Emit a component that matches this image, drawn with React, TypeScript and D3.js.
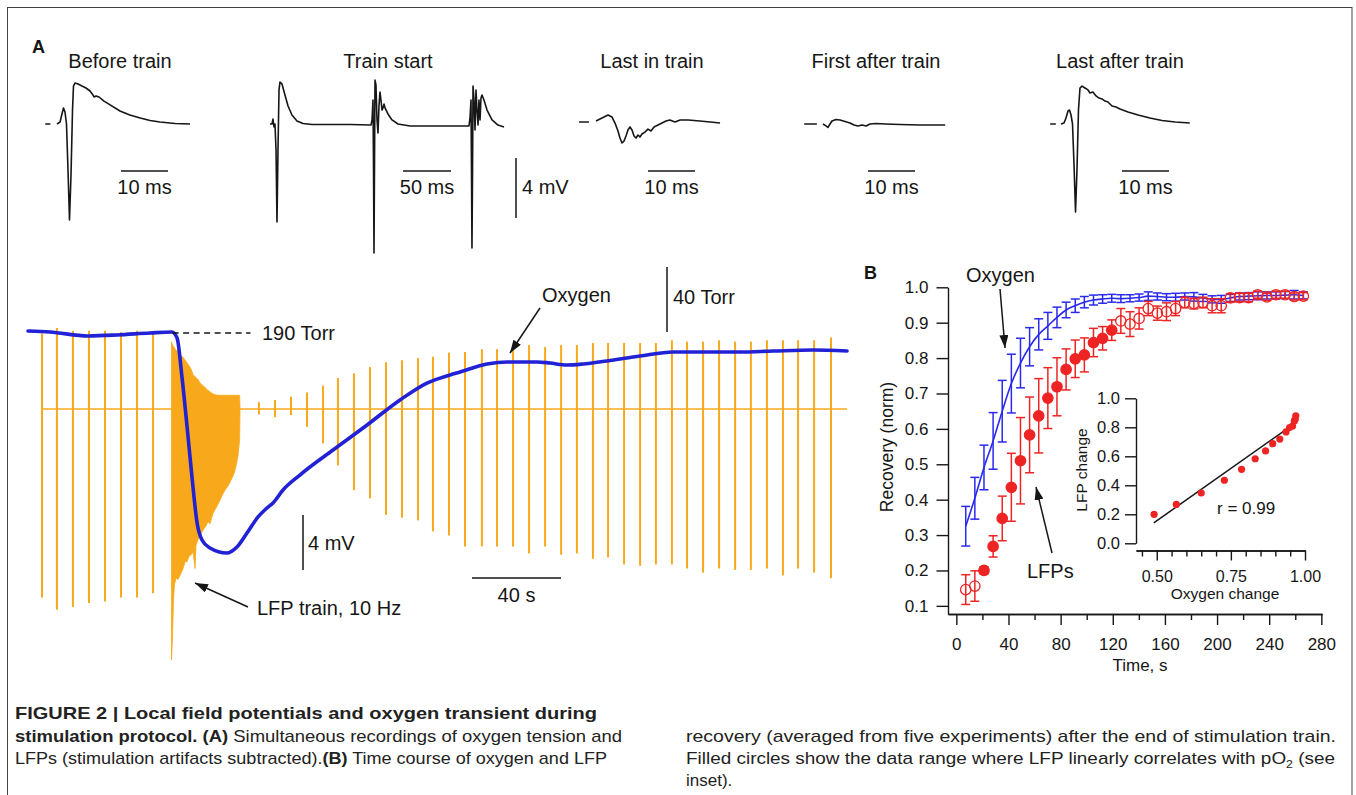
import React, { useEffect, useRef } from "react";
import * as d3 from "d3";

const FONT = "'Liberation Sans', Arial, Helvetica, sans-serif";
const INK = "#161616";
const ORANGE = "#f8a91b";
const NAVY = "#2121d6";
const BLUE = "#2a2aee";
const RED = "#ee2424";

// ---- panel A, top row: single LFP sweeps, [time ms, mV] ----
const sweepBefore = [[0,0],[0.64,0.13],[1.06,0.67],[1.38,1.07],[1.7,0.8],[2.02,0],[2.34,-3.07],[2.66,-6.4],[2.98,-3.4],[3.3,0.93],[3.51,2.53],[3.83,2.73],[4.47,2.67],[5.32,2.53],[6.17,2.4],[7.02,2.2],[7.66,1.93],[7.87,1.8],[8.3,1.87],[8.94,1.8],[10,1.53],[11.3,1.27],[13.4,0.87],[15.5,0.6],[17.7,0.4],[19.8,0.23],[21.9,0.13],[25.1,0.03],[28.3,0]];
const sweepTrainStart = [[-2.1,0],[0,0],[1.0,0.33],[2.1,-0.2],[3.1,0],[4.2,-1.73],[5.2,-6.53],[6.25,-1.73],[7.3,2.27],[8.3,2.8],[10.4,2.67],[13.5,1.93],[16.7,1.2],[20.8,0.6],[26,0.2],[32.3,0.03],[41.7,-0.03],[60.4,-0.03],[81.3,-0.03],[103.1,-0.07],[104.2,0.27],[105.2,1.6],[105.7,-2.4],[106.25,-8.6],[106.8,-2.4],[107.3,2.93],[108.3,2.6],[109.4,0.27],[110.4,-0.6],[111.5,1.27],[112.5,2.13],[113.5,1.6],[114.6,0.93],[115.6,1.07],[116.7,1.33],[117.7,1.07],[120.8,0.67],[125,0.27],[131.25,0],[143.75,-0.13],[164.6,-0.13],[185.4,-0.13],[205.2,-0.13],[206.25,0.4],[207.3,1.6],[207.8,-3.07],[208.3,-8.27],[208.9,-3.07],[209.4,2.53],[210.4,1.6],[211.5,-0.4],[212.5,2.27],[213.5,0.93],[214.6,-0.07],[215.6,1.6],[216.7,0.27],[217.7,1.73],[218.75,1.93],[220.8,1.6],[224,0.93],[229.2,0.27],[235.4,-0.07],[241.7,-0.2]];
const sweepLastIn = [[0,0.07],[0.85,0.2],[1.7,0.33],[2.55,0.47],[3.4,0.33],[4.04,-0.07],[4.68,-0.6],[5.1,-1.07],[5.53,-1.4],[5.96,-1.27],[6.38,-0.93],[6.8,-0.53],[7.23,-0.33],[7.66,-0.53],[8.09,-0.93],[8.51,-1.07],[8.94,-0.87],[9.36,-1.0],[9.79,-0.8],[10.4,-0.67],[11.06,-0.47],[11.7,-0.6],[12.34,-0.33],[13.2,-0.2],[14.04,-0.07],[14.9,0.07],[15.7,0.13],[16.8,0],[17.9,0.13],[19.6,0.13],[22.1,0.07],[24.3,0],[26.4,-0.07]];
const sweepFirstAfter = [[0,0],[0.64,-0.13],[1.06,-0.23],[1.49,0],[1.91,0.2],[2.77,0.3],[3.62,0.27],[4.68,0.17],[5.74,0.07],[6.6,-0.07],[7.45,-0.13],[8.3,-0.07],[9.15,-0.13],[10,0],[11.3,0.03],[13.2,0],[16.4,-0.03],[20.6,-0.07],[26,-0.07]];
const sweepLastAfter = [[0,0],[0.64,0.07],[1.06,0.4],[1.49,0.87],[1.81,0.93],[2.13,0.6],[2.45,0],[2.77,-2.73],[3.09,-5.87],[3.4,-3.07],[3.72,0.93],[4.04,2.4],[4.47,2.53],[5.1,2.4],[5.74,2.27],[6.17,2.07],[6.8,2.13],[7.45,1.87],[8.09,1.73],[8.72,1.67],[9.36,1.53],[10,1.47],[10.85,1.2],[11.7,1.13],[12.55,1.0],[14.26,0.8],[16.4,0.6],[18.9,0.4],[21.5,0.23],[24.3,0.13],[27.4,0.07]];
const sweepTitles = ["Before train", "Train start", "Last in train", "First after train", "Last after train"];
const sweepBarMs = [10, 50, 10, 10, 10];

// ---- panel A, lower: oxygen [s, Torr] and LFPs ----
const oxygenTrace = [[0,191.2],[9.9,190.6],[27,188.2],[40,188.8],[54.8,190],[64.7,190.6],[67,186.9],[69.2,162.9],[71.5,132.2],[73.7,101.4],[76,73.1],[78.2,62.6],[81.8,57.7],[89.4,54.6],[93.9,58.3],[98.4,66.9],[103.4,76.8],[107.4,82.3],[110.1,85.4],[114.6,93.4],[122.2,102.6],[137.1,118],[152.4,133.4],[167.2,148.8],[179.3,159.2],[189.7,164.2],[194.2,166],[206.3,170.9],[215.3,172.2],[228.8,172.2],[234.6,171.5],[242.2,170.3],[249.4,170.9],[260.2,172.8],[275.1,175.8],[289.9,178.3],[305.2,178.3],[320,178.3],[334.8,178.9],[352.8,179.5],[368.1,178.9]];
// single evoked LFPs [s, peak mV, trough mV]
const lfpBefore = [[6.3,5.5,-13.7],[13.0,5.9,-14.6],[20.2,5.7,-14.4],[27.4,5.7,-14.1],[34.6,5.7,-14.0],[41.8,5.6,-13.7],[49.0,5.7,-13.7],[56.2,5.6,-13.4]];
// 10 Hz train envelope [s, upper mV, lower mV]
const lfpTrain = [[64.5,4.87,-18.25],[64.9,4.7,-16.8],[65.4,4.55,-13.9],[65.8,4.45,-12.8],[66.5,4.3,-12.3],[67.4,4.15,-12.4],[68.3,4.0,-12.1],[69.7,3.75,-11.6],[70.6,3.56,-11.1],[71.5,3.35,-11.1],[72.4,3.15,-10.7],[73.3,2.9,-10.6],[74.2,2.5,-10.4],[75.1,2.35,-11.6],[75.5,2.3,-9.9],[76.4,2.15,-9.5],[77.3,1.9,-9.2],[78.7,1.7,-8.8],[80.0,1.5,-8.5],[80.9,1.35,-8.2],[81.8,1.25,-8.35],[83.1,1.1,-7.6],[84.5,1.02,-7.2],[85.8,1.0,-6.8],[87.2,1.0,-6.3],[88.5,1.0,-5.9],[89.9,1.0,-5.6],[91.2,1.0,-5.2],[92.6,1.0,-4.7],[93.5,1.0,-4.15],[94.4,1.0,-3.4],[95.1,1.0,-2.25],[95.3,0,0]];
const lfpAfter = [[103.8,0.5,-0.4],[111.0,0.65,-0.6],[118.2,0.9,-0.45],[125.4,1.2,-1.3],[132.6,1.7,-2.5],[139.3,2.25,-4.1],[146.5,2.6,-5.9],[153.7,3.05,-6.5],[160.9,3.4,-7.7],[168.1,3.55,-7.9],[175.3,3.7,-8.1],[182.0,3.8,-8.9],[189.2,4.1,-9.2],[196.4,4.15,-10.0],[204.0,4.35,-10.0],[210.8,4.35,-10.0],[218.0,4.5,-10.0],[225.2,4.65,-10.5],[232.4,4.5,-10.0],[239.6,4.65,-10.6],[246.7,4.65,-10.5],[253.9,4.8,-10.9],[260.7,4.8,-10.8],[267.9,4.8,-11.3],[275.1,4.8,-11.4],[282.2,4.8,-11.3],[289.4,5.0,-11.3],[296.2,4.9,-11.6],[303.4,4.9,-11.9],[310.6,5.0,-11.6],[317.8,4.9,-11.7],[324.9,4.9,-11.7],[332.1,5.0,-11.6],[339.3,5.0,-12.1],[346.1,5.0,-11.6],[353.3,5.0,-11.9],[360.9,5.2,-12.3]];

// ---- panel B: recovery after the train ----
const recTime = [7.2,14.2,21.2,28.2,35.2,42.2,49.2,56.2,63.2,70.2,77.2,84.2,91.2,98.2,105.2,112.2,119.2,126.2,133.2,140.2,147.2,154.2,161.2,168.2,175.2,182.2,189.2,196.2,203.2,210.2,217.2,224.2,231.2,238.2,245.2,252.2,259.2,266.2];
const oxyMean = [0.325,0.404,0.491,0.566,0.65,0.728,0.786,0.832,0.867,0.891,0.915,0.936,0.948,0.958,0.964,0.967,0.969,0.968,0.969,0.971,0.975,0.974,0.972,0.972,0.974,0.973,0.97,0.966,0.966,0.97,0.974,0.975,0.976,0.977,0.977,0.978,0.979,0.977];
const oxySem = [0.056,0.059,0.063,0.08,0.087,0.083,0.07,0.054,0.044,0.038,0.029,0.022,0.019,0.016,0.014,0.012,0.011,0.011,0.01,0.01,0.012,0.01,0.01,0.011,0.01,0.012,0.01,0.01,0.011,0.01,0.01,0.01,0.011,0.01,0.01,0.01,0.012,0.01];
const lfpMean = [0.146,0.156,0.2,0.268,0.347,0.435,0.51,0.583,0.637,0.687,0.719,0.768,0.798,0.809,0.844,0.856,0.879,0.905,0.896,0.912,0.94,0.927,0.931,0.94,0.957,0.954,0.957,0.948,0.948,0.97,0.971,0.971,0.979,0.973,0.979,0.979,0.974,0.975];
const lfpSem = [0.042,0.043,0.01,0.03,0.063,0.096,0.122,0.107,0.105,0.086,0.082,0.058,0.053,0.048,0.04,0.033,0.029,0.035,0.035,0.03,0.02,0.02,0.025,0.02,0.015,0.015,0.015,0.02,0.02,0.012,0.012,0.012,0.01,0.01,0.01,0.01,0.01,0.01];
const filledFrom = 2;
const filledTo = 16;
const fitEnds = [[0.49, 0.141], [0.968, 0.831]];
const timeTicks = [0, 40, 80, 120, 160, 200, 240, 280];
const timeMinor = [20, 60, 100, 140, 180, 220, 260];
const recTicks = [0.1, 0.2, 0.3, 0.4, 0.5, 0.6, 0.7, 0.8, 0.9, 1.0];
const insetYTicks = [0, 0.2, 0.4, 0.6, 0.8, 1.0];
const insetXTicks = [0.5, 0.75, 1.0];
const insetXMinor = [0.45, 0.55, 0.6, 0.65, 0.7, 0.8, 0.85, 0.9, 0.95];

// placement of the five sweeps
const sweepLayout = [
  { cx: 120, x0: 57, msPx: 4.7, y0: 124, dash: [-2.5, -1.4], bar: 121 },
  { cx: 388, x0: 272, msPx: 0.96, y0: 124, dash: null, bar: 403 },
  { cx: 652, x0: 596, msPx: 4.7, y0: 122, dash: [-3.6, -1.5], bar: 648 },
  { cx: 876, x0: 823, msPx: 4.7, y0: 124, dash: [-4.0, -1.3], bar: 868 },
  { cx: 1120, x0: 1061, msPx: 4.7, y0: 124, dash: [-2.3, -1.1], bar: 1122 },
];
const sweeps = [sweepBefore, sweepTrainStart, sweepLastIn, sweepFirstAfter, sweepLastAfter];

function Axis({ scale, side, x = 0, y = 0, values, size, labels = true, fmt = (d: any) => d, fontSize = 17, pad = 4 }: any) {
  const ref = useRef<SVGGElement>(null);
  useEffect(() => {
    const ax = (side === "left" ? d3.axisLeft(scale) : d3.axisBottom(scale))
      .tickValues(values)
      .tickSize(size)
      .tickSizeOuter(0)
      .tickPadding(pad)
      .tickFormat(labels ? fmt : () => "");
    const g = d3.select(ref.current).call(ax as any);
    g.attr("font-family", FONT).attr("font-size", fontSize);
    g.selectAll("line, path").attr("stroke", INK).attr("stroke-width", 1.4);
    g.selectAll("text").attr("fill", INK);
  });
  return <g ref={ref} transform={`translate(${x},${y})`} />;
}

const txt = (extra: any = {}) => ({ fontFamily: FONT, fill: INK, ...extra });

function Sweeps() {
  return (
    <g>
      {sweeps.map((data, i) => {
        const L = sweepLayout[i];
        const xs = d3.scaleLinear().domain([0, 10]).range([L.x0, L.x0 + 10 * L.msPx]);
        const ys = d3.scaleLinear().domain([0, 4]).range([L.y0, L.y0 - 60]);
        const line = d3.line<number[]>().x((d) => xs(d[0])).y((d) => ys(d[1]));
        const barLen = xs(sweepBarMs[i]) - xs(0);
        return (
          <g key={i}>
            <text x={L.cx} y={68} textAnchor="middle" fontSize={20} style={txt()}>{sweepTitles[i]}</text>
            {L.dash && <line x1={xs(L.dash[0])} x2={xs(L.dash[1])} y1={ys(0)} y2={ys(0)} stroke={INK} strokeWidth={1.5} />}
            <path d={line(data as any) || ""} fill="none" stroke={INK} strokeWidth={1.6} strokeLinejoin="round" />
            <line x1={L.bar} x2={L.bar + barLen} y1={171} y2={171} stroke={INK} strokeWidth={1.5} />
            <text x={L.bar + barLen / 2} y={194} textAnchor="middle" fontSize={20} style={txt()}>{sweepBarMs[i]} ms</text>
          </g>
        );
      })}
      <line x1={516} x2={516} y1={158} y2={218} stroke={INK} strokeWidth={1.5} />
      <text x={522} y={194} fontSize={20} style={txt()}>4 mV</text>
    </g>
  );
}

function Recording() {
  const tA = d3.scaleLinear().domain([0, 40]).range([28, 117]);
  const mvA = d3.scaleLinear().domain([0, 4]).range([409, 354]);
  const torr = d3.scaleLinear().domain([150, 190]).range([398, 333]);
  const oxyLine = d3.line<number[]>().x((d) => tA(d[0])).y((d) => torr(d[1])).curve(d3.curveMonotoneX);
  const trainArea = d3.area<number[]>().x((d) => tA(d[0])).y0((d) => mvA(d[2])).y1((d) => mvA(d[1]));
  const spikes = [...lfpBefore, ...lfpAfter];
  const end = oxygenTrace[oxygenTrace.length - 1][0];
  const mv4 = mvA(0) - mvA(4);
  const t40 = torr(150) - torr(190);
  const s40 = tA(40) - tA(0);
  return (
    <g>
      <line x1={tA(lfpBefore[0][0])} x2={tA(end)} y1={mvA(0)} y2={mvA(0)} stroke={ORANGE} strokeWidth={1.6} />
      {spikes.map((d, i) => (
        <line key={i} x1={tA(d[0])} x2={tA(d[0])} y1={mvA(d[1])} y2={mvA(d[2])} stroke={ORANGE} strokeWidth={2} />
      ))}
      <path d={trainArea(lfpTrain as any) || ""} fill={ORANGE} stroke={ORANGE} strokeWidth={0.8} />
      <path d={oxyLine(oxygenTrace as any) || ""} fill="none" stroke={NAVY} strokeWidth={3.6} strokeLinejoin="round" strokeLinecap="round" />
      <line x1={tA(65)} x2={tA(100)} y1={torr(190)} y2={torr(190)} stroke={INK} strokeWidth={1.5} strokeDasharray="6 4.5" />
      <text x={262} y={340} fontSize={20} style={txt()}>190 Torr</text>
      <line x1={667} x2={667} y1={332} y2={332 - t40} stroke={INK} strokeWidth={1.5} />
      <text x={673} y={304} fontSize={20} style={txt()}>40 Torr</text>
      <text x={542} y={302} fontSize={20} style={txt()}>Oxygen</text>
      <line x1={540} y1={308} x2={510} y2={353} stroke={INK} strokeWidth={1.5} markerEnd="url(#ah)" />
      <line x1={303} x2={303} y1={570} y2={570 - mv4} stroke={INK} strokeWidth={1.5} />
      <text x={308} y={550} fontSize={20} style={txt()}>4 mV</text>
      <line x1={472} x2={472 + s40} y1={578} y2={578} stroke={INK} strokeWidth={1.5} />
      <text x={472 + s40 / 2} y={602} textAnchor="middle" fontSize={20} style={txt()}>40 s</text>
      <text x={257} y={615} fontSize={20} style={txt()}>LFP train, 10 Hz</text>
      <line x1={248} y1={607} x2={195} y2={583} stroke={INK} strokeWidth={1.5} markerEnd="url(#ah)" />
    </g>
  );
}

function Recovery() {
  const xB = d3.scaleLinear().domain([-6.4, 280.5]).range([948, 1322]);
  const yB = d3.scaleLinear().domain([0.077, 1.0]).range([614, 287.3]);
  const xI = d3.scaleLinear().domain([0.43, 1.0]).range([1136, 1305]);
  const yI = d3.scaleLinear().domain([0, 1]).range([543.3, 398.3]);
  const oxy = recTime.map((t, i) => [t, oxyMean[i], oxySem[i]]);
  const lfp = recTime.map((t, i) => [t, lfpMean[i], lfpSem[i]]);
  const meanLine = d3.line<number[]>().x((d) => xB(d[0])).y((d) => yB(d[1])).curve(d3.curveMonotoneX);
  const inset = d3.range(filledFrom, filledTo + 1).map((i) => [oxyMean[i], lfpMean[i]]);
  const cap = 4.5;
  const errBar = (d: number[], color: string, key: string) => {
    const x = xB(d[0]);
    const y1 = yB(d[1] + d[2]);
    const y2 = yB(d[1] - d[2]);
    return (
      <g key={key} stroke={color} strokeWidth={1.5}>
        <line x1={x} x2={x} y1={y1} y2={y2} />
        <line x1={x - cap} x2={x + cap} y1={y1} y2={y1} />
        <line x1={x - cap} x2={x + cap} y1={y2} y2={y2} />
      </g>
    );
  };
  return (
    <g>
      <text x={864} y={279} fontSize={18} fontWeight="bold" style={txt()}>B</text>
      <Axis scale={yB} side="left" x={948} values={recTicks} size={11.5} pad={8} fmt={d3.format(".1f")} />
      <Axis scale={xB} side="bottom" y={614} values={timeTicks} size={11} pad={13} fmt={d3.format("d")} />
      <Axis scale={xB} side="bottom" y={614} values={timeMinor} size={6} labels={false} />
      <text transform="translate(893,447) rotate(-90)" textAnchor="middle" fontSize={17.5} style={txt()}>Recovery (norm)</text>
      <text x={1140} y={671} textAnchor="middle" fontSize={17} style={txt()}>Time, s</text>

      {oxy.map((d, i) => errBar(d, BLUE, "o" + i))}
      <path d={meanLine(oxy) || ""} fill="none" stroke={BLUE} strokeWidth={1.6} />
      {lfp.map((d, i) => errBar(d, RED, "l" + i))}
      {lfp.map((d, i) => {
        const filled = i >= filledFrom && i <= filledTo;
        return (
          <circle key={"c" + i} cx={xB(d[0])} cy={yB(d[1])} r={5.2}
            fill={filled ? RED : "none"} stroke={RED} strokeWidth={1.3} />
        );
      })}

      <text x={966} y={282} fontSize={20} style={txt()}>Oxygen</text>
      <line x1={1000} y1={289} x2={1005} y2={348} stroke={INK} strokeWidth={1.5} markerEnd="url(#ah)" />
      <text x={1027} y={578} fontSize={20} style={txt()}>LFPs</text>
      <line x1={1052} y1={553} x2={1036} y2={487} stroke={INK} strokeWidth={1.5} markerEnd="url(#ah)" />

      {/* inset: LFP vs oxygen */}
      <Axis scale={yI} side="left" x={1136} values={insetYTicks} size={11} pad={5} fmt={d3.format(".1f")} fontSize={16.5} />
      <Axis scale={xI} side="bottom" y={550.5} values={insetXTicks} size={10} pad={10} fmt={d3.format(".2f")} fontSize={16} />
      <Axis scale={xI} side="bottom" y={550.5} values={insetXMinor} size={6} labels={false} />
      <text transform="translate(1087,470) rotate(-90)" textAnchor="middle" fontSize={15.5} style={txt()}>LFP change</text>
      <text x={1225} y={599} textAnchor="middle" fontSize={15.5} style={txt()}>Oxygen change</text>
      <line x1={xI(fitEnds[0][0])} y1={yI(fitEnds[0][1])} x2={xI(fitEnds[1][0])} y2={yI(fitEnds[1][1])} stroke={INK} strokeWidth={1.5} />
      {inset.map((d, i) => (
        <circle key={"i" + i} cx={xI(d[0])} cy={yI(d[1])} r={3.6} fill={RED} />
      ))}
      <text x={1217} y={514} fontSize={17} style={txt()}>r = 0.99</text>
    </g>
  );
}

function Caption() {
  const fs = 17;
  const c = txt({ fill: "#222" });
  return (
    <g fontSize={fs}>
      <text x={15} y={719} textLength={582} lengthAdjust="spacingAndGlyphs" style={c} fontWeight="bold">
        FIGURE 2 | Local field potentials and oxygen transient during
      </text>
      <text x={15} y={742} textLength={607} lengthAdjust="spacingAndGlyphs" style={c}>
        <tspan fontWeight="bold">stimulation protocol. (A)</tspan> Simultaneous recordings of oxygen tension and
      </text>
      <text x={15} y={764} textLength={592} lengthAdjust="spacingAndGlyphs" style={c}>
        LFPs (stimulation artifacts subtracted).<tspan fontWeight="bold">(B)</tspan> Time course of oxygen and LFP
      </text>
      <text x={686} y={742} textLength={650} lengthAdjust="spacingAndGlyphs" style={c}>
        recovery (averaged from five experiments) after the end of stimulation train.
      </text>
      <text x={686} y={764} textLength={649} lengthAdjust="spacingAndGlyphs" style={c}>
        Filled circles show the data range where LFP linearly correlates with pO<tspan fontSize={11} dy={4}>2</tspan><tspan dy={-4}> (see</tspan>
      </text>
      <text x={686} y={786} style={c}>inset).</text>
    </g>
  );
}

export default function App() {
  return (
    <svg width={1356} height={795} viewBox="0 0 1356 795"
      style={{ position: "absolute", left: 0, top: 0, background: "#fff" }}>
      <defs>
        <marker id="ah" viewBox="0 0 13 9" refX={13} refY={4.5} markerWidth={13} markerHeight={9}
          markerUnits="userSpaceOnUse" orient="auto">
          <path d="M0,0 L13,4.5 L0,9 z" fill={INK} />
        </marker>
      </defs>
      <rect x={0} y={0} width={1356} height={795} fill="#fff" />
      <rect x={7.5} y={7.5} width={1344.5} height={820} fill="none" stroke="#444" strokeWidth={1} />
      <text x={32} y={53} fontSize={18} fontWeight="bold" style={txt()}>A</text>
      <Sweeps />
      <Recording />
      <Recovery />
      <Caption />
    </svg>
  );
}
